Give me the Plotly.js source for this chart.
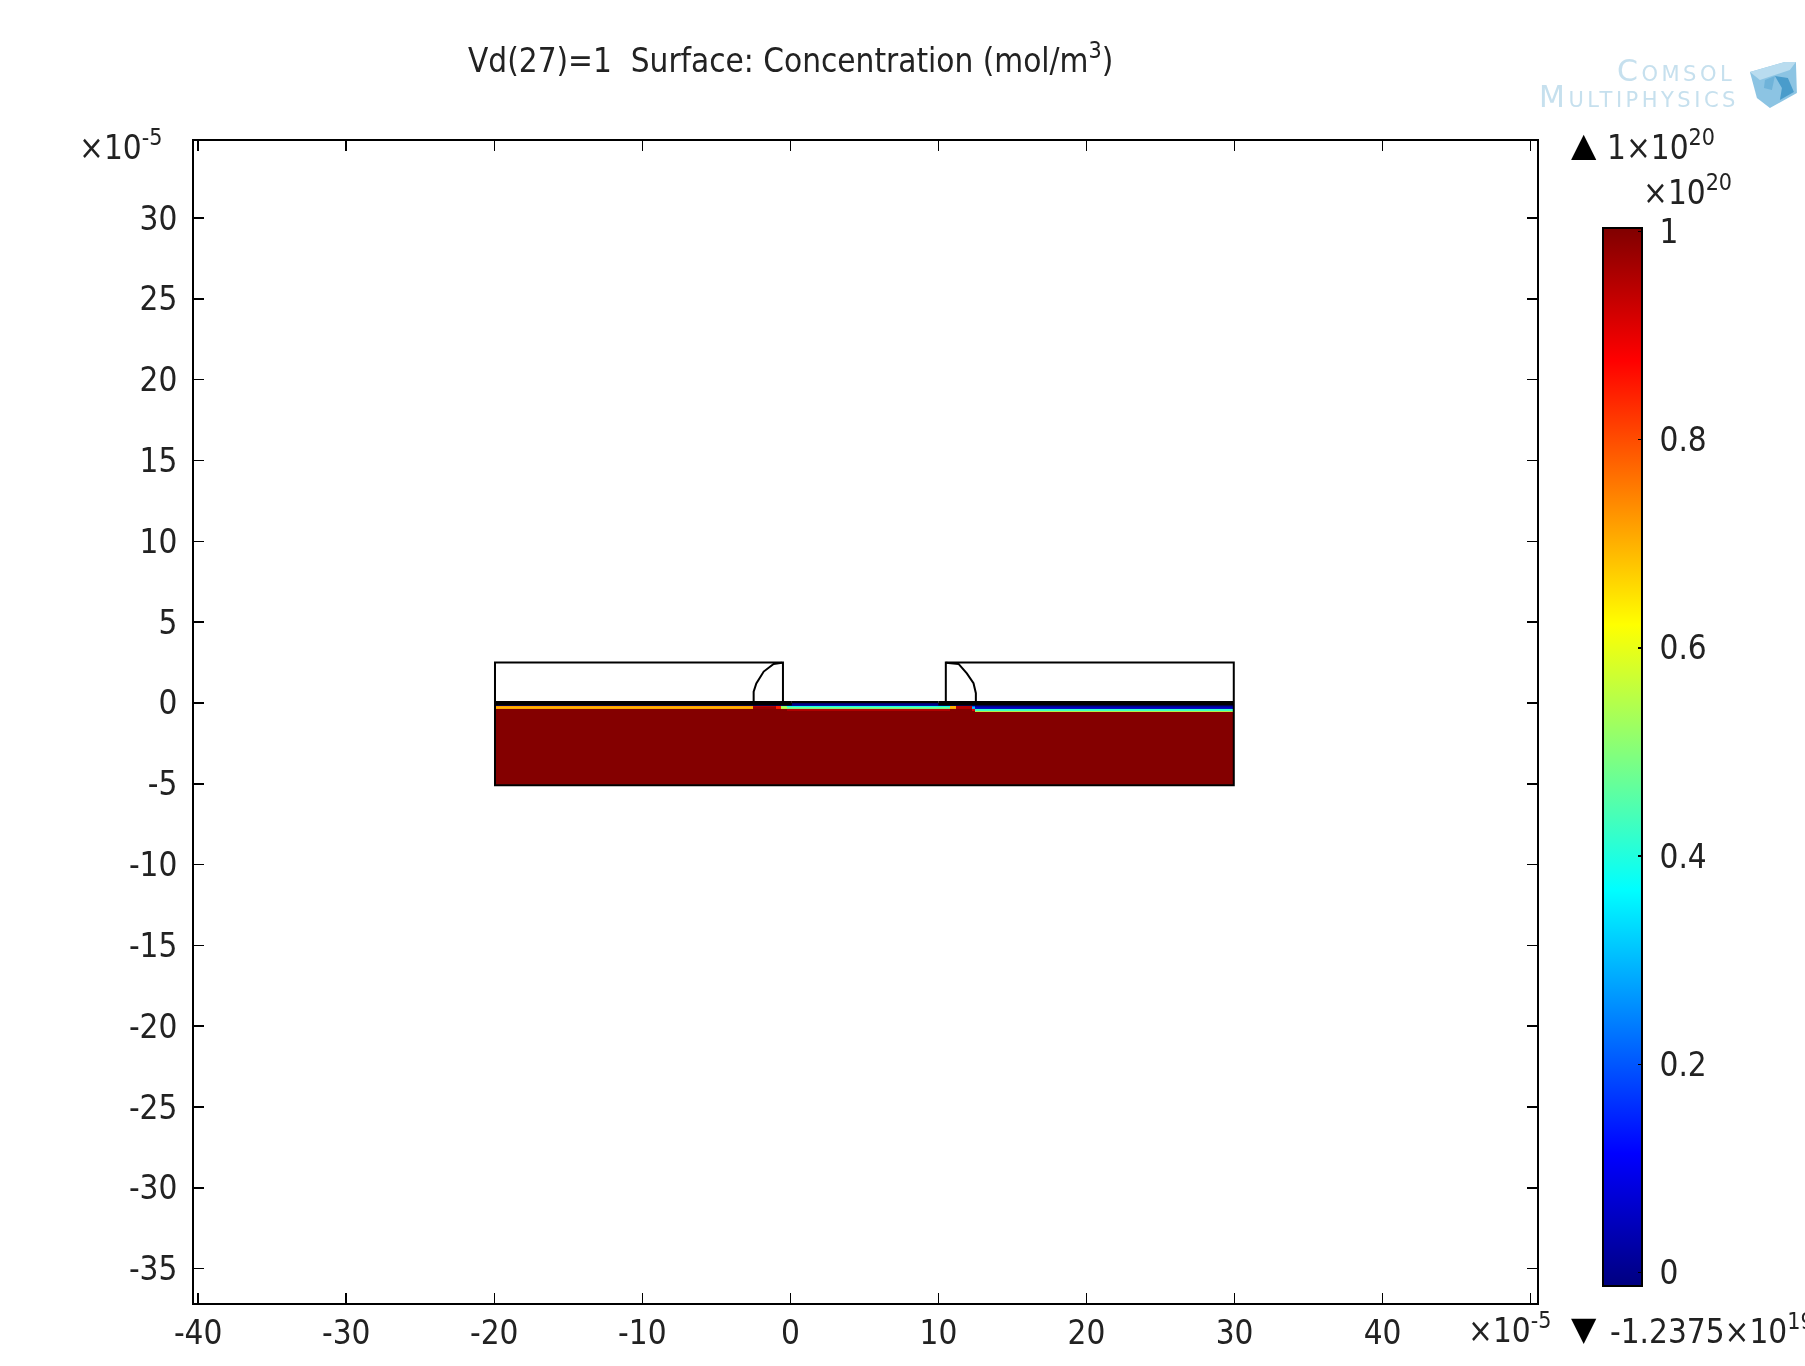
<!DOCTYPE html>
<html><head><meta charset="utf-8">
<script src="https://cdn.plot.ly/plotly-3.0.1.min.js"></script>
<style>html,body{margin:0;padding:0;background:#fff;overflow:hidden}#chart{width:1805px;height:1366px;filter:blur(0.7px)}</style>
</head><body><div id="chart"></div>
<script>
// Field data: concentration / 1e20
const xEdges=[-19.95,-2.55,-0.95,-0.6,-0.2,10.8,11.2,12.25,12.5,29.95];
const yEdges=[-5.1,-0.56,-0.47,-0.39,-0.26,-0.16,0];
const zBulk =[1,1,1,1,1,1,1,1,1];
const zRow1 =[1,1,1,1,1,1,1,1,0.55];
const zRow2 =[1,1,1,1,0.95,1,1,0.9,0.42];
const zRow3 =[0.7,0.98,0.85,0.55,0.48,0.7,0.95,0.3,0.05];
const zRow4 =[0.72,0.95,0.85,0.5,0.38,0.7,0.95,0.2,0];
const zRow5 =[0,0,0,0,0,0,0,0,0];
// Geometry outlines
const leftGateX=[-19.95,-19.95,-0.5,-0.5];
const leftGateY=[0,2.5,2.5,0];
const rightGateX=[10.5,10.5,29.95,29.95];
const rightGateY=[0,2.5,2.5,0];
const bulkX=[-19.95,-19.95,29.95,29.95];
const bulkY=[0,-5.1,-5.1,0];
const leftArcX=[-2.48,-2.48,-2.3,-1.8,-1.13,-0.57];
const leftArcY=[0.08,0.7,1.2,1.94,2.41,2.49];
const rightArcX=[10.5,11.36,11.92,12.37,12.53,12.53];
const rightArcY=[2.49,2.41,1.83,1.22,0.6,0.08];
const oxideLeftX=[-19.95,0.1];
const oxideLeftY=[-0.02,-0.02];
const oxideMidX=[0.1,10.0];
const oxideMidY=[0.05,0.05];
const oxideRightX=[10.0,29.95];
const oxideRightY=[-0.02,-0.02];
// Axes
const xTicks=[-40,-30,-20,-10,0,10,20,30,40,50];
const xLabels=['-40','-30','-20','-10','0','10','20','30','40',''];
const yTicks=[-35,-30,-25,-20,-15,-10,-5,0,5,10,15,20,25,30];
const cbTicks=[0,0.2,0.4,0.6,0.8,1];
const cbLabels=['0','0.2','0.4','0.6','0.8','1'];
const jet=[[0,'rgb(0,0,128)'],[0.125,'rgb(0,0,255)'],[0.375,'rgb(0,255,255)'],[0.625,'rgb(255,255,0)'],[0.875,'rgb(255,0,0)'],[1,'rgb(128,0,0)']];
const zMin=-0.012375, zMax=1.0038;

const L=193.5,R=1537,T=141,B=1303.5;
const fx=p=>(p-L)/(R-L), fy=p=>(B-p)/(B-T);
const FONT='"DejaVu Sans Condensed","DejaVu Sans",sans-serif';
const INK='#222';
const SIZE=33;
const line=(x,y,w)=>({type:'scatter',mode:'lines',x,y,line:{color:'#000',width:w,shape:'linear'},hoverinfo:'skip',showlegend:false});

const traces=[
 {type:'heatmap',x:xEdges,y:yEdges,z:[zBulk,zRow1,zRow2,zRow3,zRow4,zRow5],zmin:zMin,zmax:zMax,colorscale:jet,zsmooth:false,hoverinfo:'skip',
  colorbar:{x:fx(1603),xanchor:'left',xpad:0,y:fy(1286),yanchor:'bottom',ypad:0,
   thicknessmode:'pixels',thickness:39,lenmode:'pixels',len:1058,outlinewidth:2,outlinecolor:'#000',
   tickmode:'array',tickvals:cbTicks,ticktext:cbLabels.map(s=>'&nbsp;'+s),ticks:'inside',ticklen:5,tickwidth:1.5,tickcolor:'#000',
   tickfont:{family:FONT,size:SIZE,color:INK}}},
 line(leftGateX,leftGateY,2),line(rightGateX,rightGateY,2),line(bulkX,bulkY,2),
 line(leftArcX,leftArcY,2),line(rightArcX,rightArcY,2),
 line(oxideLeftX,oxideLeftY,4.5),line(oxideMidX,oxideMidY,2.2),line(oxideRightX,oxideRightY,4.5)
];

const ann=(text,px,py,xa,ya,extra={})=>Object.assign({text,xref:'paper',yref:'paper',x:fx(px),y:fy(py),xanchor:xa,yanchor:ya,showarrow:false,borderpad:0,
  font:{family:FONT,size:SIZE,color:INK}},extra);
const logo={family:'"DejaVu Sans","Liberation Sans",sans-serif',size:30,color:'#c6e0ee',variant:'small-caps'};
const spaced=s=>'<span style="letter-spacing:3.5px">'+s+'</span>';
const annotations=[
 ann('Vd(27)=1&nbsp;&nbsp;Surface: Concentration (mol/m<sup>3</sup>)',790,58,'center','middle'),
 ann('×10<sup>-5</sup>',162,146,'right','middle'),
 ann('×10<sup>-5</sup>',1552,1329,'right','middle'),
 ann('▲',1584,145,'center','middle',{font:{family:'"DejaVu Sans"',size:33,color:'#000'}}),
 ann('1×10<sup>20</sup>',1606,146,'left','middle'),
 ann('×10<sup>20</sup>',1642,191,'left','middle'),
 ann('▼',1584,1329,'center','middle',{font:{family:'"DejaVu Sans"',size:33,color:'#000'}}),
 ann('-1.2375×10<sup>19</sup>',1609,1330,'left','middle'),
 ann(spaced('Comsol'),1736,70,'right','middle',{font:logo}),
 ann(spaced('Multiphysics'),1740,96,'right','middle',{font:logo})
];
const poly=(pts,fill)=>({type:'path',xref:'paper',yref:'paper',layer:'above',line:{width:0},fillcolor:fill,
  path:'M'+pts.map(p=>fx(p[0])+','+fy(p[1])).join('L')+'Z'});
const shapes=[
 poly([[1750,72],[1785,62],[1796,62],[1797,93],[1770,108],[1757,98]],'#8cc4e3'),
 poly([[1750,72],[1785,62],[1796,62],[1790,70],[1760,80]],'#b9dcef'),
 poly([[1775,76],[1788,78],[1794,92],[1780,100],[1782,88]],'#4a9ccb'),
 poly([[1765,80],[1775,76],[1772,90],[1764,88]],'#6fb3d9')
];
// left-hand colour-bar ticks mirror the native right-hand ones
const cbY=v=>1272-v*1040;
cbTicks.forEach(v=>shapes.push({type:'line',xref:'paper',yref:'paper',layer:'above',x0:fx(1604),x1:fx(1609),y0:fy(cbY(v)),y1:fy(cbY(v)),line:{color:'#000',width:1.5}}));

const axisCommon={showgrid:false,zeroline:false,showline:true,mirror:'ticks',linecolor:'#000',linewidth:2,ticks:'inside',ticklen:10,tickwidth:1.5,tickcolor:'#000',tickmode:'array',
 tickfont:{family:FONT,size:SIZE,color:INK}};
const layout={width:1805,height:1366,paper_bgcolor:'#fff',plot_bgcolor:'#fff',showlegend:false,
 margin:{l:L,r:1805-R,t:T,b:1366-B,autoexpand:false},
 xaxis:Object.assign({},axisCommon,{range:[-40.28,50.43],tickvals:xTicks,ticktext:xLabels,ticklabelstandoff:-1}),
 yaxis:Object.assign({},axisCommon,{range:[-37.12,34.76],tickvals:yTicks,ticktext:yTicks.map(String),ticklabelstandoff:8}),
 annotations,shapes};
Plotly.newPlot('chart',traces,layout,{staticPlot:true,displayModeBar:false});
</script></body></html>
